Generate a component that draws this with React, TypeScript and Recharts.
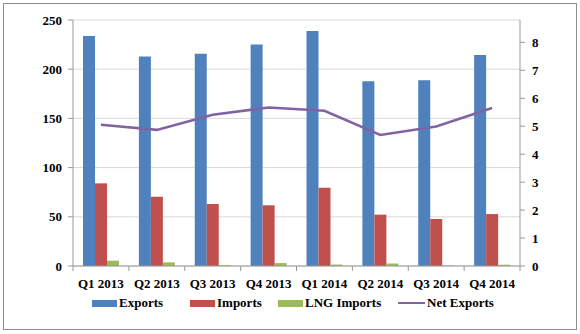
import React from 'react'
import { ComposedChart, Bar, Line, XAxis, YAxis, CartesianGrid, Legend } from 'recharts'

const quarters = ['Q1 2013', 'Q2 2013', 'Q3 2013', 'Q4 2013', 'Q1 2014', 'Q2 2014', 'Q3 2014', 'Q4 2014']
const exportsVals = [233.7, 213, 215.8, 225, 238.8, 187.7, 188.7, 214.4]
const importsVals = [84, 70.4, 63, 61.7, 79.6, 52.2, 47.8, 52.8]
const lngVals = [5.4, 3.7, 0.8, 3, 1.5, 2.5, 0.5, 1.3]
const netExportsVals = [5.05, 4.87, 5.41, 5.67, 5.55, 4.69, 4.99, 5.65]
const leftTicks = [0, 50, 100, 150, 200, 250]
const rightTicks = [0, 1, 2, 3, 4, 5, 6, 7, 8]

const data = quarters.map((q, i) => ({
  name: q,
  Exports: exportsVals[i],
  Imports: importsVals[i],
  'LNG Imports': lngVals[i],
  'Net Exports': netExportsVals[i],
}))

const FONT = '"Liberation Serif", "Times New Roman", serif'
const AXIS = '#999'
const PLOT_LEFT = 73
const PLOT_RIGHT = 520
const BAND = (PLOT_RIGHT - PLOT_LEFT) / quarters.length

const tickStyle = { fontFamily: FONT, fontWeight: 700, fontSize: 13, fill: '#000' }

function XTick(props: any) {
  const { x, y, payload, index } = props
  return (
    <g>
      <line x1={x - BAND / 2} x2={x - BAND / 2} y1={y} y2={y + 5} stroke={AXIS} />
      {index === quarters.length - 1 && (
        <line x1={x + BAND / 2} x2={x + BAND / 2} y1={y} y2={y + 5} stroke={AXIS} />
      )}
      <text x={x} y={y + 22} textAnchor="middle" style={tickStyle}>{payload.value}</text>
    </g>
  )
}

function YTick(props: any) {
  const { x, y, payload, textAnchor } = props
  return (
    <text x={x} y={y} dy={4.5} textAnchor={textAnchor} style={tickStyle}>{payload.value}</text>
  )
}

const legendItems = [
  { label: 'Exports', color: '#4F81BD', left: 92, type: 'rect' },
  { label: 'Imports', color: '#C0504D', left: 190, type: 'rect' },
  { label: 'LNG Imports', color: '#9BBB59', left: 278, type: 'rect' },
  { label: 'Net Exports', color: '#8064A2', left: 398, type: 'line' },
]

function LegendContent() {
  return (
    <div style={{ position: 'relative', width: 580, height: 16 }}>
      {legendItems.map(it => (
        <div key={it.label} style={{ position: 'absolute', left: it.left, top: 1, height: 16, display: 'flex', alignItems: 'center' }}>
          {it.type === 'rect'
            ? <span style={{ display: 'inline-block', width: 25, height: 7, background: it.color }} />
            : <span style={{ display: 'inline-block', width: 27, height: 2.5, background: it.color }} />}
          <span style={{ fontFamily: FONT, fontWeight: 700, fontSize: 13, color: '#000', marginLeft: 2, lineHeight: '16px' }}>{it.label}</span>
        </div>
      ))}
    </div>
  )
}

export default function App() {
  return (
    <div style={{ position: 'relative', width: 580, height: 334, background: '#fff', fontFamily: FONT }}>
      <style>{'body{margin:0}'}</style>
      <div style={{ position: 'absolute', left: 3, top: 3, width: 572, height: 325, border: '1px solid #8c8c8c' }} />
      <ComposedChart
        width={580}
        height={334}
        data={data}
        margin={{ top: 20, right: 0, left: 0, bottom: 0 }}
        barGap={0}
        style={{ position: 'absolute', left: 0, top: 0 }}
      >
        <CartesianGrid yAxisId="left" vertical={false} stroke="#d9d9d9" />
        <XAxis
          dataKey="name"
          height={52}
          tick={<XTick />}
          tickLine={false}
          tickSize={0}
          tickMargin={0}
          axisLine={{ stroke: AXIS }}
          interval={0}
        />
        <YAxis
          yAxisId="left"
          width={PLOT_LEFT}
          domain={[0, 250]}
          ticks={leftTicks}
          tickSize={5}
          tickMargin={6}
          tick={<YTick />}
          axisLine={{ stroke: AXIS }}
          tickLine={{ stroke: AXIS }}
          interval={0}
        />
        <YAxis
          yAxisId="right"
          orientation="right"
          width={580 - PLOT_RIGHT}
          domain={[0, 8.8]}
          ticks={rightTicks}
          tickSize={5}
          tickMargin={7}
          tick={<YTick />}
          axisLine={{ stroke: AXIS }}
          tickLine={{ stroke: AXIS }}
          interval={0}
          allowDataOverflow
        />
        <Legend
          verticalAlign="bottom"
          content={<LegendContent />}
          wrapperStyle={{ left: 0, width: 580, height: 16, bottom: 24 }}
        />
        <Bar yAxisId="left" dataKey="Exports" fill="#4F81BD" barSize={12} isAnimationActive={false} />
        <Bar yAxisId="left" dataKey="Imports" fill="#C0504D" barSize={12} isAnimationActive={false} />
        <Bar yAxisId="left" dataKey="LNG Imports" fill="#9BBB59" barSize={12} isAnimationActive={false} />
        <Line
          yAxisId="right"
          dataKey="Net Exports"
          stroke="#8064A2"
          strokeWidth={2.5}
          dot={false}
          activeDot={false}
          isAnimationActive={false}
        />
      </ComposedChart>
    </div>
  )
}
